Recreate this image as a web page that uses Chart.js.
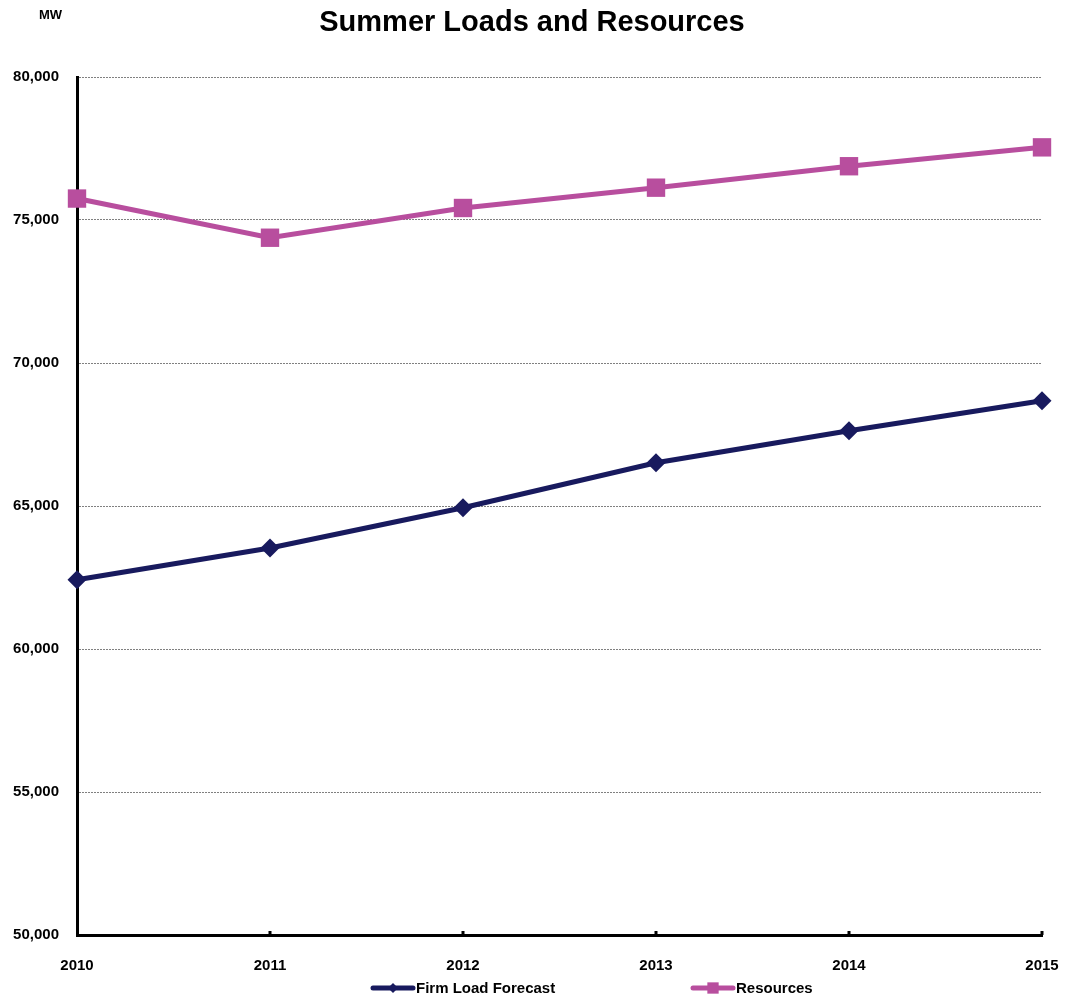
<!DOCTYPE html>
<html>
<head>
<meta charset="utf-8">
<title>Summer Loads and Resources</title>
<script src="https://cdn.jsdelivr.net/npm/chart.js@4.4.1/dist/chart.umd.min.js"></script>
<style>
    html, body { margin: 0; padding: 0; background: #fff; }
    #wrap { width: 1066px; height: 1000px; position: relative; }
</style>
</head>
<body>
<div id="wrap"><canvas id="loadsChart" width="1066" height="1000"></canvas></div>
<script>
    // Chart data
    const years = ['2010', '2011', '2012', '2013', '2014', '2015'];
    const firmLoad = [62420, 63530, 64940, 66510, 67630, 68680];
    const resources = [75750, 74380, 75420, 76130, 76880, 77540];
    const yTicks = [50000, 55000, 60000, 65000, 70000, 75000, 80000];

    const FONT = '"Liberation Sans", Arial, sans-serif';
    const navy = '#181A5E';
    const magenta = '#B84E9E';

    // Title, unit label, inner x tick marks and legend drawn on the canvas
    const extrasPlugin = {
        id: 'extras',
        afterDraw(chart) {
            const ctx = chart.ctx;
            const xScale = chart.scales.x;
            const bottom = chart.chartArea.bottom;
            ctx.save();

            // small tick marks pointing up into the plot
            ctx.fillStyle = '#000';
            years.forEach((y, i) => {
                if (i === 0) return;
                const px = xScale.getPixelForValue(i);
                ctx.fillRect(px - 1.5, bottom - 4, 3, 4);
            });

            ctx.textBaseline = 'middle';
            ctx.textAlign = 'center';
            ctx.font = 'bold 29px ' + FONT;
            ctx.fillText('Summer Loads and Resources', 532, 23);
            ctx.font = 'bold 13px ' + FONT;
            ctx.textAlign = 'left';
            ctx.fillText('MW', 39, 15);

            // legend
            const items = [
                { label: 'Firm Load Forecast', color: navy, style: 'rectRot', r: 5, x: 373 },
                { label: 'Resources', color: magenta, style: 'rect', r: 8, x: 693 }
            ];
            const ly = 988;
            items.forEach(it => {
                ctx.strokeStyle = it.color;
                ctx.lineWidth = 5;
                ctx.lineCap = 'round';
                ctx.beginPath();
                ctx.moveTo(it.x, ly);
                ctx.lineTo(it.x + 40, ly);
                ctx.stroke();
                ctx.fillStyle = it.color;
                Chart.helpers.drawPoint(ctx, { pointStyle: it.style, radius: it.r, borderWidth: 0 }, it.x + 20, ly);
                ctx.fillStyle = '#000';
                ctx.font = 'bold 15px ' + FONT;
                ctx.textAlign = 'left';
                ctx.fillText(it.label, it.x + 43, ly + 1);
            });
            ctx.restore();
        }
    };

    const ctx = document.getElementById('loadsChart').getContext('2d');
    const loadsChart = new Chart(ctx, {
        type: 'line',
        data: {
            labels: years,
            datasets: [{
                label: 'Firm Load Forecast',
                data: firmLoad,
                borderColor: navy,
                backgroundColor: navy,
                borderWidth: 5,
                pointStyle: 'rectRot',
                pointRadius: 9.5,
                pointBorderWidth: 0,
                tension: 0,
                clip: false
            }, {
                label: 'Resources',
                data: resources,
                borderColor: magenta,
                backgroundColor: magenta,
                borderWidth: 5,
                pointStyle: 'rect',
                pointRadius: 13,
                pointBorderWidth: 0,
                tension: 0,
                clip: false
            }]
        },
        options: {
            responsive: false,
            animation: false,
            layout: {
                autoPadding: false,
                padding: { left: 0, right: 24, top: 77, bottom: 0 }
            },
            plugins: {
                legend: { display: false },
                title: { display: false },
                tooltip: { enabled: false }
            },
            scales: {
                x: {
                    offset: false,
                    grid: { display: false, drawTicks: false },
                    border: { display: true, color: '#000', width: 3 },
                    ticks: {
                        color: '#000',
                        padding: 22,
                        maxRotation: 0,
                        font: { family: FONT, size: 15, weight: 'bold' }
                    },
                    afterFit(scale) {
                        scale.height = 65;
                        scale.paddingLeft = 0;
                        scale.paddingRight = 0;
                    }
                },
                y: {
                    min: 50000,
                    max: 80000,
                    afterBuildTicks(scale) {
                        scale.ticks = yTicks.map(v => ({ value: v }));
                    },
                    grid: { color: '#808080', lineWidth: 1, drawTicks: false },
                    border: { display: true, color: '#000', width: 3, dash: [2, 1] },
                    ticks: {
                        color: '#000',
                        padding: 18,
                        font: { family: FONT, size: 15, weight: 'bold' },
                        callback: v => v.toLocaleString('en-US')
                    },
                    afterFit(scale) {
                        scale.width = 77;
                        scale.paddingTop = 0;
                        scale.paddingBottom = 0;
                    }
                }
            }
        },
        plugins: [extrasPlugin]
    });
</script>
</body>
</html>
